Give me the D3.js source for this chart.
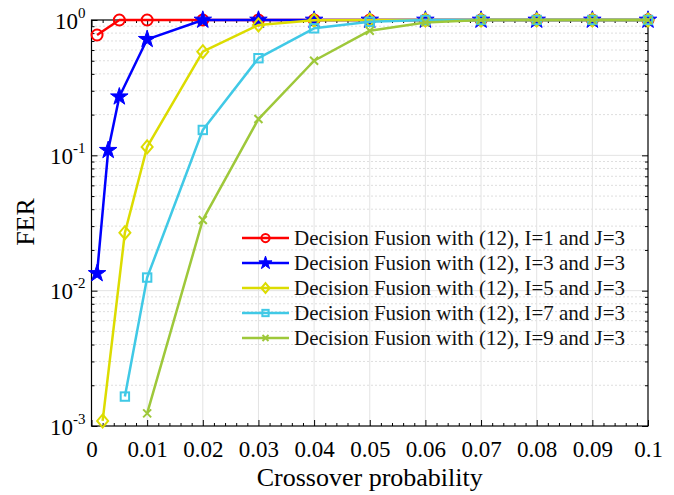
<!DOCTYPE html>
<html><head><meta charset="utf-8">
<script src="https://cdn.jsdelivr.net/npm/d3@7"></script>
<style>body{margin:0;background:#fff}svg{display:block}</style>
</head><body><svg id="c" width="674" height="495"></svg>
<script>
// ---- data ----
const seriesNames = [
  "Decision Fusion with (12), I=1 and J=3",
  "Decision Fusion with (12), I=3 and J=3",
  "Decision Fusion with (12), I=5 and J=3",
  "Decision Fusion with (12), I=7 and J=3",
  "Decision Fusion with (12), I=9 and J=3"
];
const p_I1 = [0.001,0.005,0.01,0.02,0.03,0.04,0.05,0.06,0.07,0.08,0.09,0.1];
const fer_I1 = [0.775,1,1,1,1,1,1,1,1,1,1,1];
const p_I3 = [0.001,0.003,0.005,0.01,0.02,0.03,0.04,0.05,0.06,0.07,0.08,0.09,0.1];
const fer_I3 = [0.0134,0.109,0.271,0.72,1,1,1,1,1,1,1,1,1];
const p_I5 = [0.002,0.006,0.01,0.02,0.03,0.04,0.05,0.06,0.07,0.08,0.09,0.1];
const fer_I5 = [0.00109,0.0268,0.1154,0.583,0.92,0.995,1,1,1,1,1,1];
const p_I7 = [0.006,0.01,0.02,0.03,0.04,0.05,0.06,0.07,0.08,0.09,0.1];
const fer_I7 = [0.00165,0.0125,0.154,0.522,0.868,0.97,1,1,1,1,1];
const p_I9 = [0.01,0.02,0.03,0.04,0.05,0.06,0.07,0.08,0.09,0.1];
const fer_I9 = [0.00124,0.0333,0.1855,0.5,0.834,0.96,1,1,1,1];
const xTicks = [0,0.01,0.02,0.03,0.04,0.05,0.06,0.07,0.08,0.09,0.1];
const xTickLabels = ["0","0.01","0.02","0.03","0.04","0.05","0.06","0.07","0.08","0.09","0.1"];
const yTicks = [1e-3,1e-2,1e-1,1];
const yTickExps = ["-3","-2","-1","0"];
const xLabel = "Crossover probability";
const yLabel = "FER";
const colors = ["#ff0000","#0000ff","#dcdc00","#40c9e6","#9ec83a"];
const markers = ["circle","star","diamond","square","x"];

// ---- layout ----
const L = 91.5, R = 648, T = 20, B = 426;
const svg = d3.select("#c");
const font = "'Liberation Serif','Times New Roman',serif";
const x = d3.scaleLinear().domain([0,0.1]).range([L,R]);
const y = d3.scaleLog().domain([1e-3,1]).range([B,T]);

const xMinor = d3.range(0,0.1001,0.002).filter(v=>Math.abs(Math.round(v*100)-v*100)>1e-6);
const yMinor = [];
[1e-3,1e-2,1e-1].forEach(d=>{for(let k=2;k<=9;k++) yMinor.push(d*k);});

// grid
const g = svg.append("g");
g.selectAll(".ymin").data(yMinor).enter().append("line")
  .attr("x1",L).attr("x2",R).attr("y1",d=>y(d)).attr("y2",d=>y(d))
  .attr("stroke","#bdbdbd").attr("stroke-width",1).attr("stroke-dasharray","1,3");
g.selectAll(".xg").data(xTicks.slice(1,-1)).enter().append("line")
  .attr("x1",d=>x(d)).attr("x2",d=>x(d)).attr("y1",T).attr("y2",B)
  .attr("stroke","#e3e3e3").attr("stroke-width",1);
g.selectAll(".yg").data(yTicks.slice(1,-1)).enter().append("line")
  .attr("x1",L).attr("x2",R).attr("y1",d=>y(d)).attr("y2",d=>y(d))
  .attr("stroke","#e3e3e3").attr("stroke-width",1);

function styleAxis(sel){
  sel.selectAll("line").attr("stroke","#000").attr("stroke-width",1);
  sel.select(".domain").remove();
}
const axB = svg.append("g").attr("transform",`translate(0,${B})`)
  .call(d3.axisBottom(x).tickValues(xTicks).tickSize(-6)
    .tickFormat((d,i)=>xTickLabels[i]));
styleAxis(axB);
axB.selectAll("text").attr("font-family",font).attr("font-size",23).attr("fill","#000")
  .attr("dy",null).attr("y",31);
svg.append("g").attr("transform",`translate(0,${B})`)
  .call(d3.axisBottom(x).tickValues(xMinor).tickSize(-3).tickFormat("")).call(styleAxis);
svg.append("g").attr("transform",`translate(0,${T})`)
  .call(d3.axisTop(x).tickValues(xTicks).tickSize(-6).tickFormat("")).call(styleAxis);
svg.append("g").attr("transform",`translate(0,${T})`)
  .call(d3.axisTop(x).tickValues(xMinor).tickSize(-3).tickFormat("")).call(styleAxis);

const axL = svg.append("g").attr("transform",`translate(${L},0)`)
  .call(d3.axisLeft(y).tickValues(yTicks).tickSize(-6).tickFormat(""));
styleAxis(axL);
axL.selectAll(".tick").each(function(d,i){
  const t = d3.select(this).append("text").attr("font-family",font).attr("fill","#000")
    .attr("text-anchor","end").attr("x",-6).attr("y",8);
  t.append("tspan").attr("font-size",23).text("10");
  t.append("tspan").attr("font-size",15).attr("dy",-11).text(yTickExps[i]);
});
svg.append("g").attr("transform",`translate(${L},0)`)
  .call(d3.axisLeft(y).tickValues(yMinor).tickSize(-3).tickFormat("")).call(styleAxis);
svg.append("g").attr("transform",`translate(${R},0)`)
  .call(d3.axisRight(y).tickValues(yTicks).tickSize(-6).tickFormat("")).call(styleAxis);
svg.append("g").attr("transform",`translate(${R},0)`)
  .call(d3.axisRight(y).tickValues(yMinor).tickSize(-3).tickFormat("")).call(styleAxis);

svg.append("rect").attr("x",L).attr("y",T).attr("width",R-L).attr("height",B-T)
  .attr("fill","none").attr("stroke","#000").attr("stroke-width",1.2);

svg.append("text").attr("x",(L+R)/2).attr("y",486).attr("text-anchor","middle")
  .attr("font-family",font).attr("font-size",26).text(xLabel);
svg.append("text").attr("transform","translate(34,222) rotate(-90)").attr("text-anchor","middle")
  .attr("font-family",font).attr("font-size",26).text(yLabel);

function drawMarker(sel, type, color, s){
  if(type==="circle"){
    sel.append("circle").attr("r",5.5*s).attr("fill","none").attr("stroke",color).attr("stroke-width",2);
  } else if(type==="star"){
    sel.append("path").attr("d",d3.symbol().type(d3.symbolStar).size(95*s*s)()).attr("fill",color).attr("stroke",color).attr("stroke-width",1);
  } else if(type==="diamond"){
    const a=5.5*s,b=6.5*s;
    sel.append("path").attr("d",`M0,${-b}L${a},0L0,${b}L${-a},0Z`).attr("fill","none").attr("stroke",color).attr("stroke-width",2);
  } else if(type==="square"){
    const a=4.2*s;
    sel.append("rect").attr("x",-a).attr("y",-a).attr("width",2*a).attr("height",2*a).attr("fill","none").attr("stroke",color).attr("stroke-width",2);
  } else {
    const a=4*s;
    sel.append("path").attr("d",`M${-a},${-a}L${a},${a}M${-a},${a}L${a},${-a}`).attr("fill","none").attr("stroke",color).attr("stroke-width",2);
  }
}

const series = [[p_I1,fer_I1],[p_I3,fer_I3],[p_I5,fer_I5],[p_I7,fer_I7],[p_I9,fer_I9]];
const line = d3.line().x(d=>x(d[0])).y(d=>y(d[1]));
series.forEach(([px,py],k)=>{
  const pts = px.map((v,i)=>[v,py[i]]);
  const sg = svg.append("g");
  sg.append("path").datum(pts).attr("d",line).attr("fill","none")
    .attr("stroke",colors[k]).attr("stroke-width",2.5).attr("stroke-linejoin","round");
  pts.forEach(p=>{
    drawMarker(sg.append("g").attr("transform",`translate(${x(p[0])},${y(p[1])})`),markers[k],colors[k],1);
  });
});

const lg = svg.append("g");
seriesNames.forEach((name,k)=>{
  const yy = 238 + k*25;
  lg.append("line").attr("x1",242).attr("x2",289).attr("y1",yy).attr("y2",yy)
    .attr("stroke",colors[k]).attr("stroke-width",2.5);
  drawMarker(lg.append("g").attr("transform",`translate(265.5,${yy})`),markers[k],colors[k],0.75);
  lg.append("text").attr("x",294).attr("y",yy+7).attr("font-family",font).attr("font-size",21)
    .attr("fill","#111").text(name);
});
</script>
</body></html>
